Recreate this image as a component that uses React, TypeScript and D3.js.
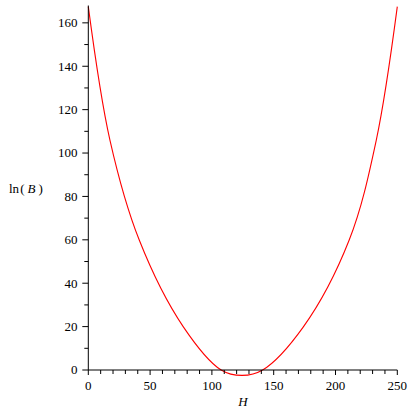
import React from "react";
import * as d3 from "d3";

const hValues = [0, 17.5, 41.3, 76.9, 107.5, 124.5, 141, 174, 211, 233, 250];
const lnBValues = [167.5, 106, 59.8, 19.9, 0, -2.5, 0, 19.9, 59.8, 106, 167.5];
const xTicks = [0, 50, 100, 150, 200, 250];
const yTicks = [0, 20, 40, 60, 80, 100, 120, 140, 160];

export default function App() {
  const W = 415, H = 415;
  const x = d3.scaleLinear().domain([0, 250]).range([88.3, 397.3]);
  const y = d3.scaleLinear().domain([0, 168]).range([370, 5.5]);
  const pts = hValues.map((h, i) => [h, lnBValues[i]] as [number, number]);
  const line = d3.line<[number, number]>().x(d => x(d[0])).y(d => y(d[1])).curve(d3.curveCatmullRom.alpha(0.5));
  const xMinor = d3.range(0, 251, 10);
  const yMinor = d3.range(0, 161, 10);
  const font = "'Liberation Serif', 'DejaVu Serif', serif";
  return (
    <svg width={W} height={H} style={{ position: "absolute", left: 0, top: 0, fontFamily: font }}>
      <rect width={W} height={H} fill="white" />
      <path d={line(pts) || ""} fill="none" stroke="#ff0000" strokeWidth={1.1} />
      <line x1={x(0)} x2={x(250)} y1={y(0)} y2={y(0)} stroke="#000" strokeWidth={1} />
      <line x1={x(0)} x2={x(0)} y1={y(0)} y2={y(168)} stroke="#000" strokeWidth={1} />
      {xMinor.map(t => (
        <line key={"xm" + t} x1={x(t)} x2={x(t)} y1={y(0)} y2={y(0) + (t % 50 === 0 ? 5 : 4)} stroke="#000" strokeWidth={1} />
      ))}
      {yMinor.map(t => (
        <line key={"ym" + t} x1={x(0) - (t % 20 === 0 ? 6 : 4)} x2={x(0)} y1={y(t)} y2={y(t)} stroke="#000" strokeWidth={1} />
      ))}
      {xTicks.map(t => (
        <text key={"xt" + t} x={x(t)} y={390} fontSize={13} textAnchor="middle">{t}</text>
      ))}
      {yTicks.map(t => (
        <text key={"yt" + t} x={77.5} y={y(t) + 4.4} fontSize={13} textAnchor="end">{t}</text>
      ))}
      <text x={243} y={406} fontSize={13} textAnchor="middle" fontStyle="italic">H</text>
      <text x={9} y={193} fontSize={13}>
        <tspan>ln</tspan>
        <tspan dx={1}>(</tspan>
        <tspan dx={3} fontStyle="italic">B</tspan>
        <tspan dx={3}>)</tspan>
      </text>
    </svg>
  );
}
